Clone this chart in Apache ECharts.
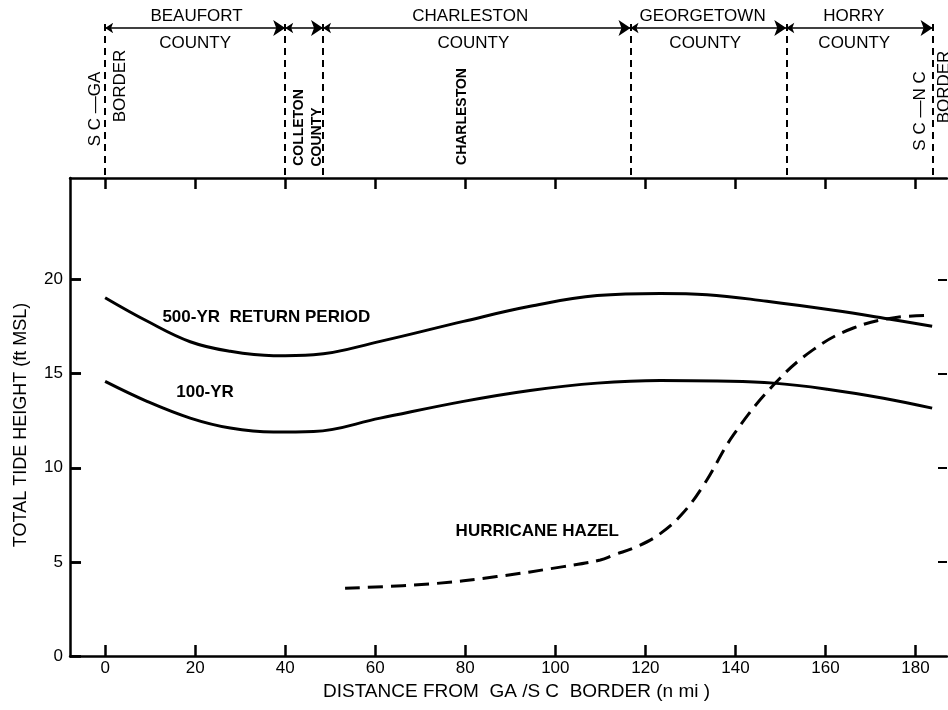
<!DOCTYPE html>
<html><head><meta charset="utf-8">
<script src="https://cdn.jsdelivr.net/npm/echarts@6/dist/echarts.min.js"></script>
<style>html,body{margin:0;padding:0;background:#fff}#c{width:948px;height:710px}</style>
</head><body><div id="c"></div>
<script>
// ---- data ----
const xTicks = [0, 20, 40, 60, 80, 100, 120, 140, 160, 180];
const yTicks = [0, 5, 10, 15, 20];
const yTicksRight = [5, 10, 15, 20];

const dist500 = [0, 9.3, 18.9, 27.8, 37.4, 46.3, 61.1, 79.6, 94.4, 109.3, 123.3, 133.7, 147, 161.8, 173, 183.7];
const tide500 = [19.04, 17.8, 16.7, 16.19, 15.96, 16.01, 16.72, 17.78, 18.58, 19.15, 19.26, 19.2, 18.85, 18.37, 17.95, 17.52];

const dist100 = [0, 9.3, 18.9, 27.8, 37.4, 46.3, 61.1, 79.6, 94.4, 109.3, 123.3, 136, 148.5, 160.4, 172.9, 183.7];
const tide100 = [14.59, 13.53, 12.64, 12.11, 11.9, 11.93, 12.64, 13.53, 14.11, 14.5, 14.64, 14.61, 14.5, 14.18, 13.7, 13.17];

const distHazel = [53.3, 72.2, 87, 101.8, 110, 113, 118, 123, 128, 133, 139.6, 148.5, 157.3, 166.2, 176, 182.7];
const tideHazel = [3.6, 3.83, 4.22, 4.75, 5.1, 5.37, 5.8, 6.45, 7.5, 9.1, 11.76, 14.41, 16.28, 17.43, 18.0, 18.09];

// county boundaries along the coast (n mi from GA/SC border)
const boundaries = [0, 40, 48.4, 116.7, 151.3, 183.8];
const countyNames = ['BEAUFORT', 'COLLETON', 'CHARLESTON', 'GEORGETOWN', 'HORRY'];

// ---- chart ----
const FONT = '"Liberation Sans", Arial, Helvetica, sans-serif';
const zip = (a, b) => a.map((v, i) => [v, b[i]]);
const XMIN = -7.8, XMAX = 187, YMAX = 25.4;
const LEFT_TICK_LEN = 2.45; // tick length expressed along the distance axis

const HDR_Y_ARROW = 28, HDR_Y_TOP = 24, HDR_Y_BOT = 178;

const arrowSegs = [];
for (let i = 0; i < boundaries.length - 1; i++) {
  arrowSegs.push({ coords: [[boundaries[i], HDR_Y_ARROW], [boundaries[i + 1], HDR_Y_ARROW]] });
}
const borderLines = boundaries.map(b => ({ coords: [[b, HDR_Y_TOP], [b, HDR_Y_BOT]] }));
const leftTickMarks = yTicks.map(v => ({ coords: [[XMIN, v], [XMIN + LEFT_TICK_LEN, v]] }));

function hl(text, x, y, opts) {
  opts = opts || {};
  return {
    name: text, value: [x, y],
    label: {
      rotate: opts.rot || 0,
      fontSize: opts.size || 17,
      fontWeight: opts.bold ? 'bold' : 'normal'
    }
  };
}

const headerLabels = [
  hl(countyNames[0], 20.3, 16.5), hl('COUNTY', 20, 43.5),
  hl(countyNames[2], 81.1, 16.5), hl('COUNTY', 81.8, 43.5),
  hl(countyNames[3], 132.7, 16.5), hl('COUNTY', 133.3, 43.5),
  hl(countyNames[4], 166.3, 16.5), hl('COUNTY', 166.4, 43.5),
  hl('S C \u2014GA', -2.1, 109, { rot: 90 }),
  hl('BORDER', 3.3, 86, { rot: 90 }),
  hl(countyNames[1], 43.1, 127.5, { rot: 90, size: 14, bold: true }),
  hl('COUNTY', 47.1, 137, { rot: 90, size: 14, bold: true }),
  hl('CHARLESTON', 79.3, 116.5, { rot: 90, size: 14, bold: true }),
  hl('S C \u2014N C', 181.1, 111, { rot: 90 }),
  hl('BORDER', 186.4, 87, { rot: 90 })
];

const axisLineStyle = { color: '#000', width: 2.5 };
const tickStyle = { color: '#000', width: 2.5 };

const option = {
  animation: false,
  backgroundColor: '#fff',
  textStyle: { fontFamily: FONT, color: '#000' },
  grid: [
    { left: 70, right: 1, top: 178, bottom: 54 },
    { left: 70, right: 1, top: 0, height: 178 }
  ],
  xAxis: [
    {
      type: 'value', gridIndex: 0, position: 'bottom', min: XMIN, max: XMAX,
      axisLine: { show: true, onZero: false, lineStyle: axisLineStyle },
      axisTick: { show: true, inside: true, length: 11, lineStyle: tickStyle, customValues: xTicks },
      axisLabel: { show: true, customValues: xTicks, fontSize: 17, color: '#000', fontFamily: FONT, margin: 4 },
      splitLine: { show: false },
      name: 'DISTANCE FROM  GA /S C  BORDER (n mi )',
      nameLocation: 'middle', nameGap: 26,
      nameTextStyle: { fontSize: 19, color: '#000', fontFamily: FONT, padding: [0, 0, 0, 16] }
    },
    {
      type: 'value', gridIndex: 0, position: 'top', min: XMIN, max: XMAX,
      axisLine: { show: true, onZero: false, lineStyle: axisLineStyle },
      axisTick: { show: true, inside: true, length: 11, lineStyle: tickStyle, customValues: xTicks },
      axisLabel: { show: false },
      splitLine: { show: false }
    },
    { type: 'value', gridIndex: 1, min: XMIN, max: XMAX, show: false }
  ],
  yAxis: [
    {
      type: 'value', gridIndex: 0, position: 'left', min: 0, max: YMAX,
      axisLine: { show: true, onZero: false, lineStyle: axisLineStyle },
      axisTick: { show: true, inside: true, length: 11, lineStyle: tickStyle, customValues: yTicks },
      axisLabel: { show: true, customValues: yTicks, fontSize: 17, color: '#000', fontFamily: FONT, margin: 7 },
      splitLine: { show: false },
      name: 'TOTAL TIDE HEIGHT (ft MSL)',
      nameLocation: 'middle', nameGap: 40, nameRotate: 90,
      nameTextStyle: { fontSize: 18, color: '#000', fontFamily: FONT, padding: [0, 16, 0, 0] }
    },
    {
      type: 'value', gridIndex: 0, position: 'right', min: 0, max: YMAX,
      axisLine: { show: false, onZero: false },
      axisTick: { show: true, inside: true, length: 9, lineStyle: { color: '#000', width: 2 }, customValues: yTicksRight },
      axisLabel: { show: false },
      splitLine: { show: false }
    },
    { type: 'value', gridIndex: 1, min: 0, max: 178, inverse: true, show: false }
  ],
  series: [
    {
      name: '500-YR', type: 'line', xAxisIndex: 0, yAxisIndex: 0,
      data: zip(dist500, tide500), smooth: 0.4, symbol: 'none',
      lineStyle: { color: '#000', width: 3 },
      markPoint: {
        symbol: 'circle', symbolSize: 0, silent: true,
        itemStyle: { opacity: 1 },
        label: { show: true, position: 'inside', color: '#000', fontFamily: FONT, fontSize: 17, fontWeight: 'bold', formatter: '{b}' },
        data: [
          { name: '500-YR  RETURN PERIOD', coord: [35.8, 17.98] },
          { name: '100-YR', coord: [22.2, 14.0] },
          { name: 'HURRICANE HAZEL', coord: [96, 6.6] }
        ]
      }
    },
    {
      name: '100-YR', type: 'line', xAxisIndex: 0, yAxisIndex: 0,
      data: zip(dist100, tide100), smooth: 0.4, symbol: 'none',
      lineStyle: { color: '#000', width: 3 }
    },
    {
      name: 'HURRICANE HAZEL', type: 'line', xAxisIndex: 0, yAxisIndex: 0,
      data: zip(distHazel, tideHazel), smooth: 0.4, symbol: 'none',
      lineStyle: { color: '#000', width: 3, type: [15, 8] }
    },
    {
      name: 'leftTicks', type: 'lines', coordinateSystem: 'cartesian2d', xAxisIndex: 0, yAxisIndex: 0,
      data: leftTickMarks, symbol: 'none', silent: true, z: 5,
      lineStyle: { color: '#000', width: 2.5, opacity: 1 }
    },
    {
      name: 'borders', type: 'lines', coordinateSystem: 'cartesian2d', xAxisIndex: 2, yAxisIndex: 2,
      data: borderLines, symbol: 'none', silent: true,
      lineStyle: { color: '#000', width: 2, type: [7, 5], opacity: 1 }
    },
    {
      name: 'extent', type: 'lines', coordinateSystem: 'cartesian2d', xAxisIndex: 2, yAxisIndex: 2,
      data: arrowSegs, symbol: ['arrow', 'arrow'], symbolSize: [8, 12], silent: true,
      lineStyle: { color: '#000', width: 1.6, opacity: 1 }
    },
    {
      name: 'headerText', type: 'scatter', xAxisIndex: 2, yAxisIndex: 2,
      data: headerLabels, symbolSize: 0, silent: true,
      itemStyle: { opacity: 1 },
      label: { show: true, position: 'inside', color: '#000', fontFamily: FONT, formatter: '{b}', align: 'center', verticalAlign: 'middle' }
    }
  ]
};

const chart = echarts.init(document.getElementById('c'), null, { renderer: 'canvas' });
chart.setOption(option);
</script>
</body></html>
